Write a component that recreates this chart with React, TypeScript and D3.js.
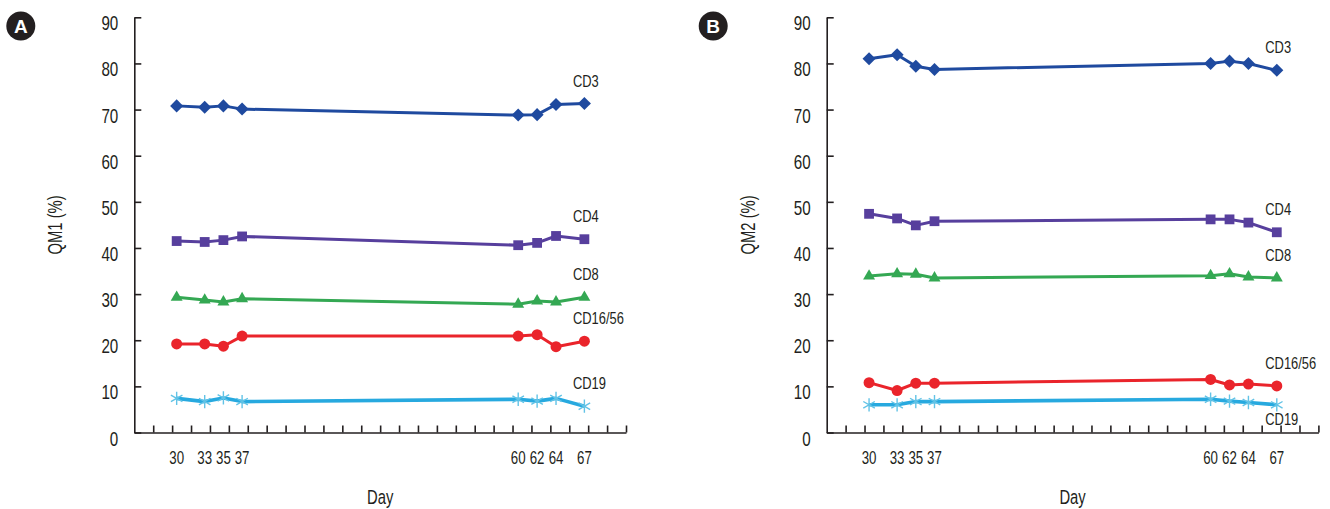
import React, { useEffect, useRef } from "react";
import * as d3 from "d3";

// Sampling days (x) and y ticks
const days = [30, 33, 35, 37, 60, 62, 64, 67];
const yTicks = [0, 10, 20, 30, 40, 50, 60, 70, 80, 90];

// Panel A: QM1 (%)
const qm1CD3 = [70.8, 70.5, 70.8, 70.1, 68.8, 68.9, 71.1, 71.3];
const qm1CD4 = [41.5, 41.3, 41.7, 42.5, 40.6, 41.1, 42.6, 41.9];
const qm1CD8 = [29.3, 28.7, 28.3, 29.0, 27.8, 28.5, 28.3, 29.3];
const qm1CD1656 = [19.2, 19.2, 18.7, 20.9, 20.9, 21.2, 18.6, 19.8];
const qm1CD19 = [7.4, 6.7, 7.5, 6.7, 7.2, 6.8, 7.4, 5.7];

// Panel B: QM2 (%)
const qm2CD3 = [81.0, 81.9, 79.4, 78.7, 80.0, 80.5, 80.0, 78.5];
const qm2CD4 = [47.4, 46.4, 44.9, 45.8, 46.2, 46.2, 45.5, 43.4];
const qm2CD8 = [33.9, 34.4, 34.3, 33.5, 34.0, 34.4, 33.7, 33.5];
const qm2CD1656 = [10.8, 9.1, 10.7, 10.7, 11.5, 10.3, 10.5, 10.1];
const qm2CD19 = [6.0, 6.0, 6.7, 6.7, 7.2, 6.8, 6.5, 6.0];

type Marker = "diamond" | "square" | "triangle" | "circle" | "asterisk";

interface Series {
  name: string;
  values: number[];
  color: string;
  markerColor: string;
  marker: Marker;
  labelBelow?: boolean;
}

// condensed look: regular sans squeezed horizontally
const FONT = "'Liberation Sans', Arial, sans-serif";
const SQUEEZE = 0.76;
const INK = "#231f20";

const seriesA: Series[] = [
  { name: "CD3", values: qm1CD3, color: "#1f4a9f", markerColor: "#1f4a9f", marker: "diamond" },
  { name: "CD4", values: qm1CD4, color: "#573f9d", markerColor: "#573f9d", marker: "square" },
  { name: "CD8", values: qm1CD8, color: "#34a853", markerColor: "#34a853", marker: "triangle" },
  { name: "CD16/56", values: qm1CD1656, color: "#ea242b", markerColor: "#ea242b", marker: "circle" },
  { name: "CD19", values: qm1CD19, color: "#27a9df", markerColor: "#62c3e6", marker: "asterisk" },
];

const seriesB: Series[] = [
  { name: "CD3", values: qm2CD3, color: "#1f4a9f", markerColor: "#1f4a9f", marker: "diamond" },
  { name: "CD4", values: qm2CD4, color: "#573f9d", markerColor: "#573f9d", marker: "square" },
  { name: "CD8", values: qm2CD8, color: "#34a853", markerColor: "#34a853", marker: "triangle" },
  { name: "CD16/56", values: qm2CD1656, color: "#ea242b", markerColor: "#ea242b", marker: "circle" },
  { name: "CD19", values: qm2CD19, color: "#27a9df", markerColor: "#62c3e6", marker: "asterisk", labelBelow: true },
];

interface PanelProps {
  left: number;
  badge: string;
  yTitle: string;
  series: Series[];
}

type G = d3.Selection<SVGGElement, unknown, null, undefined>;

function addText(
  g: G,
  x: number,
  y: number,
  txt: string,
  size: number,
  anchor = "start",
  rotate = 0
) {
  return g
    .append("text")
    .attr(
      "transform",
      `translate(${x},${y})${rotate ? ` rotate(${rotate})` : ""} scale(${SQUEEZE},1)`
    )
    .attr("text-anchor", anchor)
    .attr("fill", INK)
    .style("font-family", FONT)
    .style("font-size", `${size}px`)
    .text(txt);
}

const Panel: React.FC<PanelProps> = ({ left, badge, yTitle, series }) => {
  const gRef = useRef<SVGGElement>(null);

  useEffect(() => {
    if (!gRef.current) return;
    const g = d3.select(gRef.current) as G;
    g.selectAll("*").remove();

    const plotW = 491.7;
    const yTop = 17.3;
    const yBottom = 432.5;

    // x axis runs in 26 equal tick units; days map onto those units piecewise
    const x = d3.scaleLinear().domain([0, 26]).range([left, left + plotW]);
    const dayUnit = d3
      .scaleLinear()
      .domain([30, 37, 60, 67])
      .range([2.24, 5.7, 20.3, 23.8]);
    const xDay = (d: number) => x(dayUnit(d));

    const y = d3.scaleLinear().domain([0, 90]).range([yBottom, yTop]);

    // badge
    g.append("circle")
      .attr("cx", left - 113.5)
      .attr("cy", 26)
      .attr("r", 14.5)
      .attr("fill", INK);
    g.append("text")
      .attr("x", left - 113.5)
      .attr("y", 32.5)
      .attr("text-anchor", "middle")
      .attr("fill", "white")
      .style("font-family", FONT)
      .style("font-weight", "bold")
      .style("font-size", "19px")
      .text(badge);

    // y axis (ticks inward)
    const yAxis = g
      .append("g")
      .attr("transform", `translate(${left},0)`)
      .call(
        d3
          .axisLeft(y)
          .tickValues(yTicks)
          .tickSizeInner(-7)
          .tickSizeOuter(0)
          .tickFormat(() => "")
      );
    yAxis.select(".domain").attr("stroke", INK).attr("stroke-width", 1.6);
    yAxis.selectAll(".tick line").attr("stroke", INK).attr("stroke-width", 1.6);
    yTicks.forEach((t) => addText(g, left - 16, y(t) + 13, String(t), 20, "end"));

    // x axis (unlabelled ticks inward)
    const xAxis = g
      .append("g")
      .attr("transform", `translate(0,${yBottom})`)
      .call(
        d3
          .axisBottom(x)
          .tickValues(d3.range(1, 27))
          .tickSizeInner(-7)
          .tickSizeOuter(0)
          .tickFormat(() => "")
      );
    xAxis.select(".domain").attr("stroke", INK).attr("stroke-width", 1.6);
    xAxis.selectAll(".tick line").attr("stroke", INK).attr("stroke-width", 1.6);

    // day labels
    days.forEach((d) => addText(g, xDay(d), 464.3, String(d), 17.5, "middle"));

    // axis titles
    addText(g, left + plotW / 2, 503.5, "Day", 19.5, "middle");
    addText(g, left - 72, (yTop + yBottom) / 2, yTitle, 19.5, "middle", -90);

    const line = d3
      .line<number>()
      .x((_, i) => xDay(days[i]))
      .y((v) => y(v));

    series.forEach((s) => {
      g.append("path")
        .datum(s.values)
        .attr("fill", "none")
        .attr("stroke", s.color)
        .attr("stroke-width", s.marker === "asterisk" ? 3.6 : 3)
        .attr("stroke-linejoin", "round")
        .attr("d", line);

      const pts = g
        .append("g")
        .selectAll("path")
        .data(s.values)
        .join("path")
        .attr("transform", (v, i) => {
          const base = `translate(${xDay(days[i])},${y(v)})`;
          return s.marker === "diamond" ? `${base} rotate(45)` : base;
        });

      if (s.marker === "asterisk") {
        pts
          .attr("d", d3.symbol(d3.symbolAsterisk, 125)())
          .attr("fill", "none")
          .attr("stroke", s.markerColor)
          .attr("stroke-width", 1.4);
      } else {
        const type =
          s.marker === "triangle"
            ? d3.symbolTriangle
            : s.marker === "circle"
            ? d3.symbolCircle
            : d3.symbolSquare;
        const size =
          s.marker === "diamond" ? 85 : s.marker === "square" ? 96 : s.marker === "triangle" ? 62 : 95;
        pts.attr("d", d3.symbol(type, size)()).attr("fill", s.markerColor);
      }

      // series label near the last point
      const last = s.values.length - 1;
      addText(
        g,
        xDay(days[last]) - 11.5,
        y(s.values[last]) + (s.labelBelow ? 20 : -17),
        s.name,
        17,
        "start"
      );
    });
  }, [left, badge, yTitle, series]);

  return <g ref={gRef}></g>;
};

export default function App() {
  return (
    <svg
      width={1330}
      height={509}
      style={{ position: "absolute", left: 0, top: 0, background: "white" }}
    >
      <Panel left={134.3} badge="A" yTitle="QM1 (%)" series={seriesA} />
      <Panel left={826.7} badge="B" yTitle="QM2 (%)" series={seriesB} />
    </svg>
  );
}
